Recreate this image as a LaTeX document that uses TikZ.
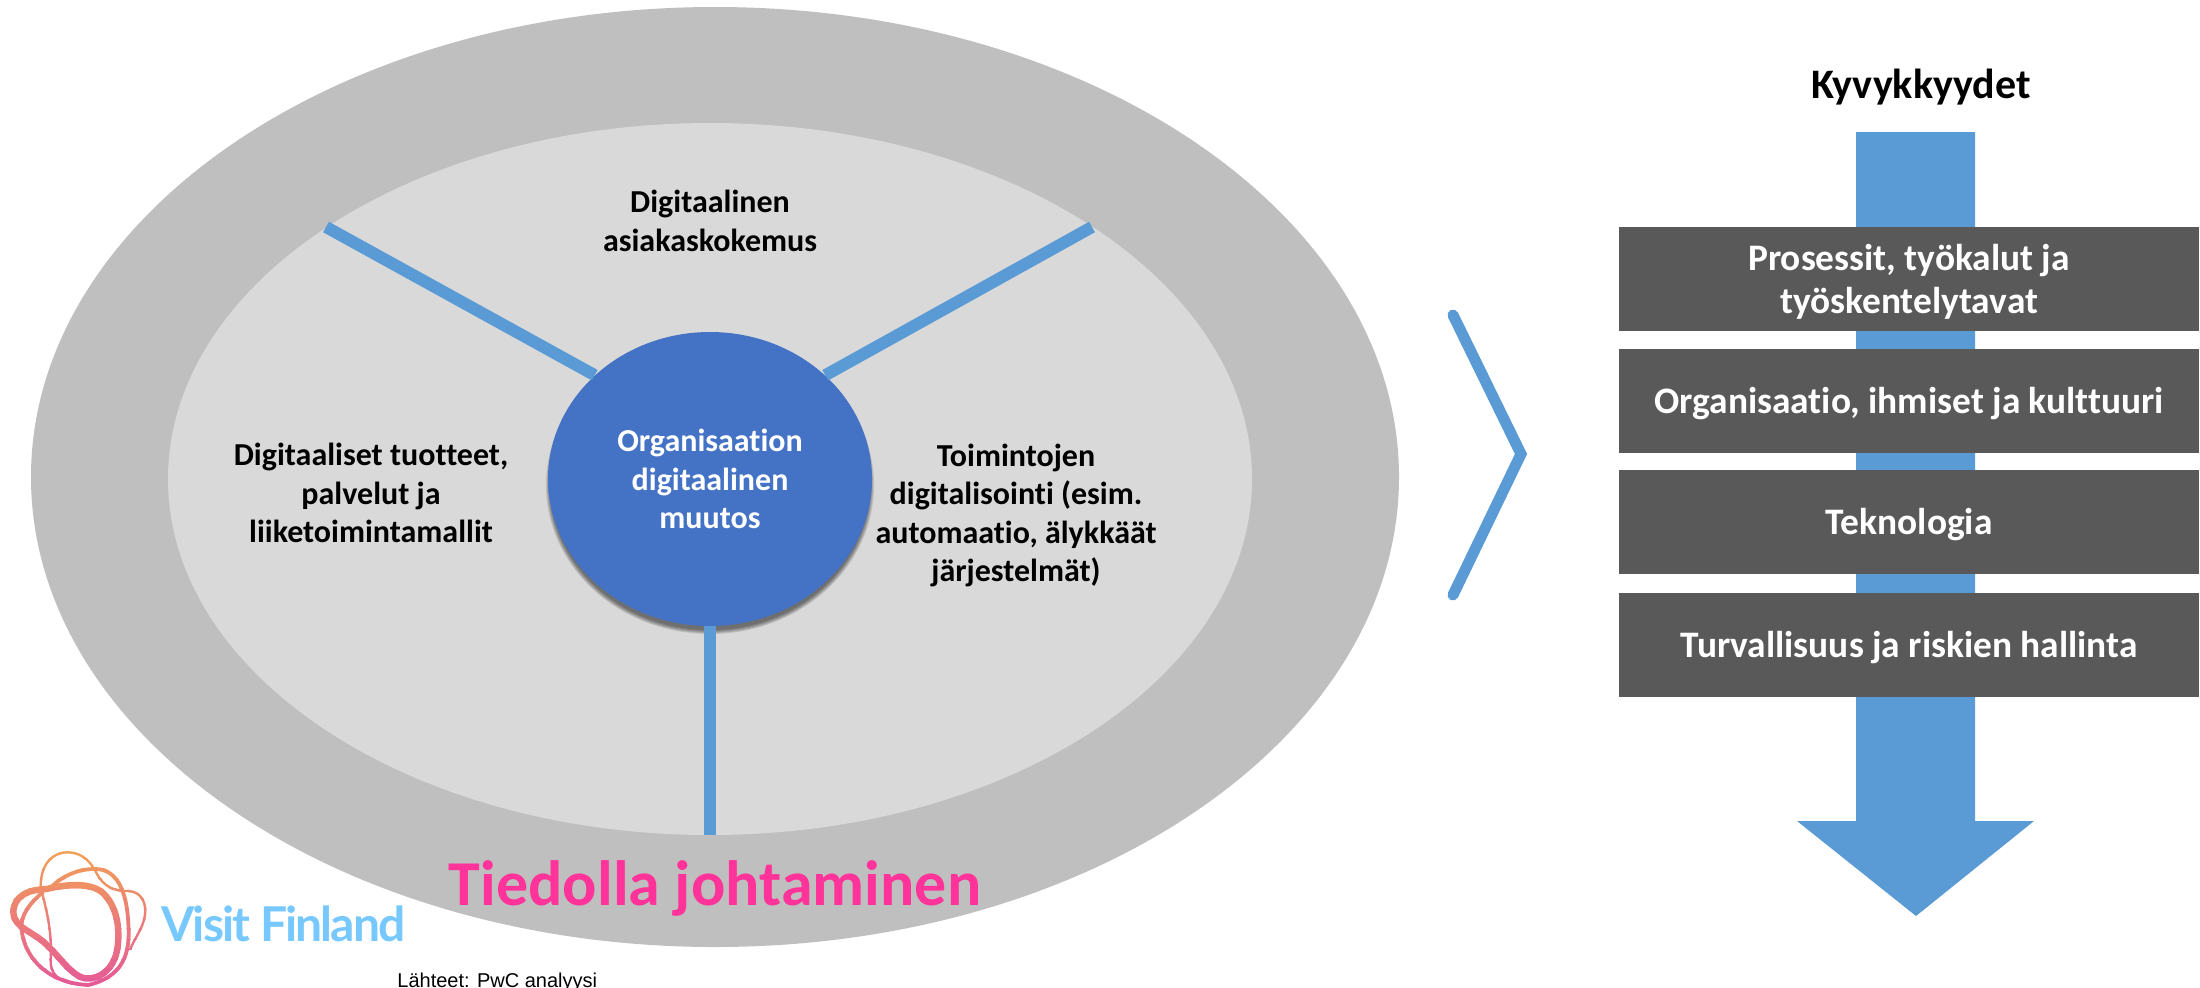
\documentclass[tikz,border=0pt]{standalone}
\usepackage{fontspec}
\setmainfont{Carlito}[Ligatures=NoCommon]
\newfontfamily\srcfont{Liberation Sans}
\newfontfamily\brandfont[LetterSpace=-4]{Lato}
\usepackage{tikz}
\usetikzlibrary{calc, positioning, shapes.geometric}
\definecolor{myblue}{HTML}{5B9BD5}
\definecolor{myhub}{HTML}{4472C4}
\definecolor{mybar}{HTML}{595959}
\definecolor{mypink}{HTML}{FF3399}
\definecolor{mysky}{HTML}{76C8FF}
\definecolor{myouter}{HTML}{BFBFBF}
\definecolor{myinner}{HTML}{D9D9D9}
\definecolor{logotop}{HTML}{F2A057}
\definecolor{logobot}{HTML}{E4569B}
\newcommand{\barline}[1]{\raisebox{-1.3pt}[\height][\depth]{#1}}
\tikzset{
	lbl/.style={align=center, font=\bfseries\fontsize{16}{19.3}\selectfont, text=black},
	barlbl/.style={fill=mybar, text=white, minimum width=290pt, minimum height=52pt, inner sep=0pt, align=center, font=\bfseries\fontsize{18.7}{21.7}\selectfont},
	spoke/.style={myblue, line width=6pt},
}
\begin{document}
\begin{tikzpicture}[x=0.5pt, y=-0.5pt]
	\useasboundingbox (0,0) rectangle (2200,987);
	% ellipses
	\node (outer) [ellipse, fill=myouter, minimum width=684pt, minimum height=470pt, inner sep=0pt] at (715,477) {};
	\node (inner) [ellipse, fill=myinner, minimum width=542pt, minimum height=356pt, inner sep=0pt] at (710,479) {};
	\coordinate (endL) at (326,227);
	\coordinate (endR) at (1092,227);
	\coordinate (endB) at (710,835);
	% soft shadow under the hub
	\foreach \s in {0,1,...,4}
		\fill [black, opacity=0.12] (710,485) ellipse ({(160+\s)*0.5pt} and {(145+\s)*0.5pt});
	\node (hub) [lbl, ellipse, fill=myhub, minimum width=162pt, minimum height=147pt, inner sep=0pt, text=white] at (710,479) {Organisaation\\digitaalinen\\muutos};
	\draw [spoke] (hub.138) -- (endL);
	\draw [spoke] (hub.42) -- (endR);
	\draw [spoke] (hub.south) -- (endB);
	% texts in the ellipse
	\node (asiakas) [lbl] at (710,221) {Digitaalinen\\asiakaskokemus};
	\node (tuotteet) [lbl] at (371,493) {Digitaaliset tuotteet,\\palvelut ja\\liiketoimintamallit};
	\node (toiminnot) [lbl] at (1016,515.5) {Toimintojen\\digitalisointi (esim.\\automaatio, älykkäät\\järjestelmät)};
	\node (tieto) [font=\bfseries\fontsize{32}{36}\selectfont, text=mypink] at (715,888) {Tiedolla johtaminen};
	% chevron
	\draw [myblue, line width=5.5pt, line cap=round, miter limit=10] (1453,315) -- (1521,454) -- (1453,595);
	% capability arrow and bars
	\node (kyky) [font=\bfseries\fontsize{21}{24}\selectfont] at (1921,87) {Kyvykkyydet};
	\fill [myblue] (1856,132) -- (1975,132) -- (1975,821) -- (2034,821) -- (1916,916) -- (1797,821) -- (1856,821) -- cycle;
	\node (prosessit) [barlbl] at (1909,279) {\barline{Prosessit, työkalut ja}\\\barline{työskentelytavat}};
	\node (organisaatio) [barlbl] at (1909,401) {\barline{Organisaatio, ihmiset ja kulttuuri}};
	\node (teknologia) [barlbl] at (1909,522) {\barline{Teknologia}};
	\node (turvallisuus) [barlbl] at (1909,645) {\barline{Turvallisuus ja riskien hallinta}};
	% logo, redrawn in bands for the colour fade
	\begin{scope}[shift={(0,840)}, x=0.5pt/3, y=-0.5pt/3]
		\foreach \b in {0,1,...,14} {
			\pgfmathsetmacro{\pct}{100-\b*100/14}
			\begin{scope}
				\clip (0,{25+\b*30}) rectangle (480,{57+\b*30});
				\draw [logotop!\pct!logobot, line width=1.2pt] (122,145) .. controls (120,60) and (170,35) .. (205,37) .. controls (250,38) and (275,70) .. (290,100) .. controls (310,140) and (345,155) .. (385,153) .. controls (425,155) and (440,190) .. (435,225) .. controls (430,265) and (400,300) .. (390,330);
				\draw [logotop!\pct!logobot, line width=1.2pt] (122,145) .. controls (150,240) and (155,300) .. (152,360) .. controls (150,400) and (175,425) .. (225,432);
				\draw [logotop!\pct!logobot, line width=3.2pt] (40,215) .. controls (42,165) and (90,148) .. (140,147) .. controls (200,132) and (280,125) .. (315,165) .. controls (350,205) and (360,260) .. (353,320) .. controls (345,385) and (300,420) .. (255,415) .. controls (205,405) and (170,330) .. (110,290) .. controls (70,265) and (40,250) .. (40,215) -- cycle;
				\draw [logotop!\pct!logobot, line width=1.9pt] (155,140) .. controls (195,100) and (250,85) .. (290,87) .. controls (350,90) and (380,150) .. (385,250) .. controls (392,340) and (370,410) .. (265,435) .. controls (150,430) and (75,360) .. (65,270) .. controls (58,225) and (95,185) .. (130,155);
			\end{scope}
		}
	\end{scope}
	\node (brand) [anchor=west, inner sep=0pt, font=\brandfont\bfseries\fontsize{24}{28}\selectfont, text=mysky] at (161,924) {Visit Finland};
	\node (lahde) [anchor=base west, inner sep=0pt, font=\srcfont\fontsize{10}{12}\selectfont] at (397,987) {Lähteet: PwC analyysi};
\end{tikzpicture}
\end{document}
